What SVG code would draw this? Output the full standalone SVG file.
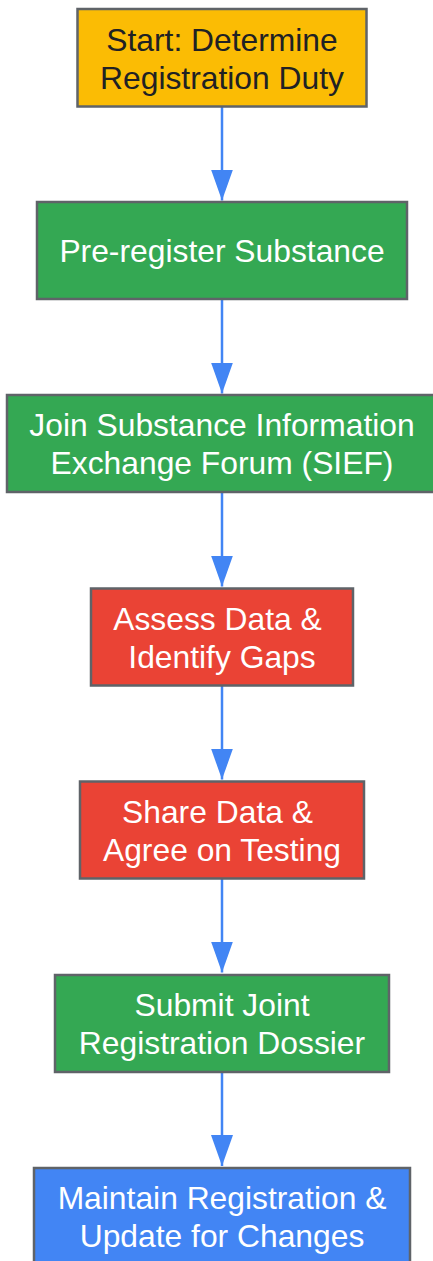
<svg xmlns="http://www.w3.org/2000/svg" width="433" height="1261" viewBox="0 0 433 1261">
  <style>
    .box { stroke: #5f6368; stroke-width: 2.5; }
    .yellow { fill: #FBBC04; }
    .green { fill: #34A853; }
    .red { fill: #EA4335; }
    .blue { fill: #4285F4; }
    .label { font-family: "Liberation Sans", Arial, sans-serif; font-size: 31.8px; text-anchor: middle; fill: #ffffff; }
    .dark { fill: #202124; }
    .edge { stroke: #4285F4; stroke-width: 2.5; fill: none; marker-end: url(#arrow); }
  </style>
  <defs>
    <marker id="arrow" viewBox="0 0 31 22" refX="31" refY="11" markerWidth="31" markerHeight="22" markerUnits="userSpaceOnUse" orient="auto">
      <path d="M0,0 L31,11 L0,22 z" fill="#4285F4"/>
    </marker>
  </defs>
  <rect width="433" height="1261" fill="#ffffff"/>
  <g id="connectors">
    <path class="edge" d="M222,107 L222,200.5"/>
    <path class="edge" d="M222,300 L222,393.5"/>
    <path class="edge" d="M222,493 L222,586.5"/>
    <path class="edge" d="M222,686 L222,779.5"/>
    <path class="edge" d="M222,879 L222,972.5"/>
    <path class="edge" d="M222,1072.5 L222,1166"/>
  </g>
  <g id="start">
    <rect class="box yellow" x="77.5" y="9" width="289" height="97.5"/>
    <text class="label dark" x="222" y="51">Start: Determine</text>
    <text class="label dark" x="222" y="89">Registration Duty</text>
  </g>
  <g id="preregister">
    <rect class="box green" x="37" y="202" width="370" height="97"/>
    <text class="label" x="222" y="262">Pre-register Substance</text>
  </g>
  <g id="sief">
    <rect class="box green" x="7" y="395" width="430" height="97"/>
    <text class="label" x="222" y="436">Join Substance Information</text>
    <text class="label" x="222" y="474">Exchange Forum (SIEF)</text>
  </g>
  <g id="assess">
    <rect class="box red" x="91" y="588.5" width="262" height="97"/>
    <text class="label" x="217.5" y="630">Assess Data &amp;</text>
    <text class="label" x="222" y="668">Identify Gaps</text>
  </g>
  <g id="share">
    <rect class="box red" x="80" y="781.5" width="284" height="97"/>
    <text class="label" x="217.5" y="823">Share Data &amp;</text>
    <text class="label" x="222" y="861">Agree on Testing</text>
  </g>
  <g id="submit">
    <rect class="box green" x="55" y="975" width="334" height="97"/>
    <text class="label" x="222" y="1016">Submit Joint</text>
    <text class="label" x="222" y="1054">Registration Dossier</text>
  </g>
  <g id="maintain">
    <rect class="box blue" x="34" y="1168" width="376" height="97"/>
    <text class="label" x="222" y="1209">Maintain Registration &amp;</text>
    <text class="label" x="222" y="1247">Update for Changes</text>
  </g>
</svg>
